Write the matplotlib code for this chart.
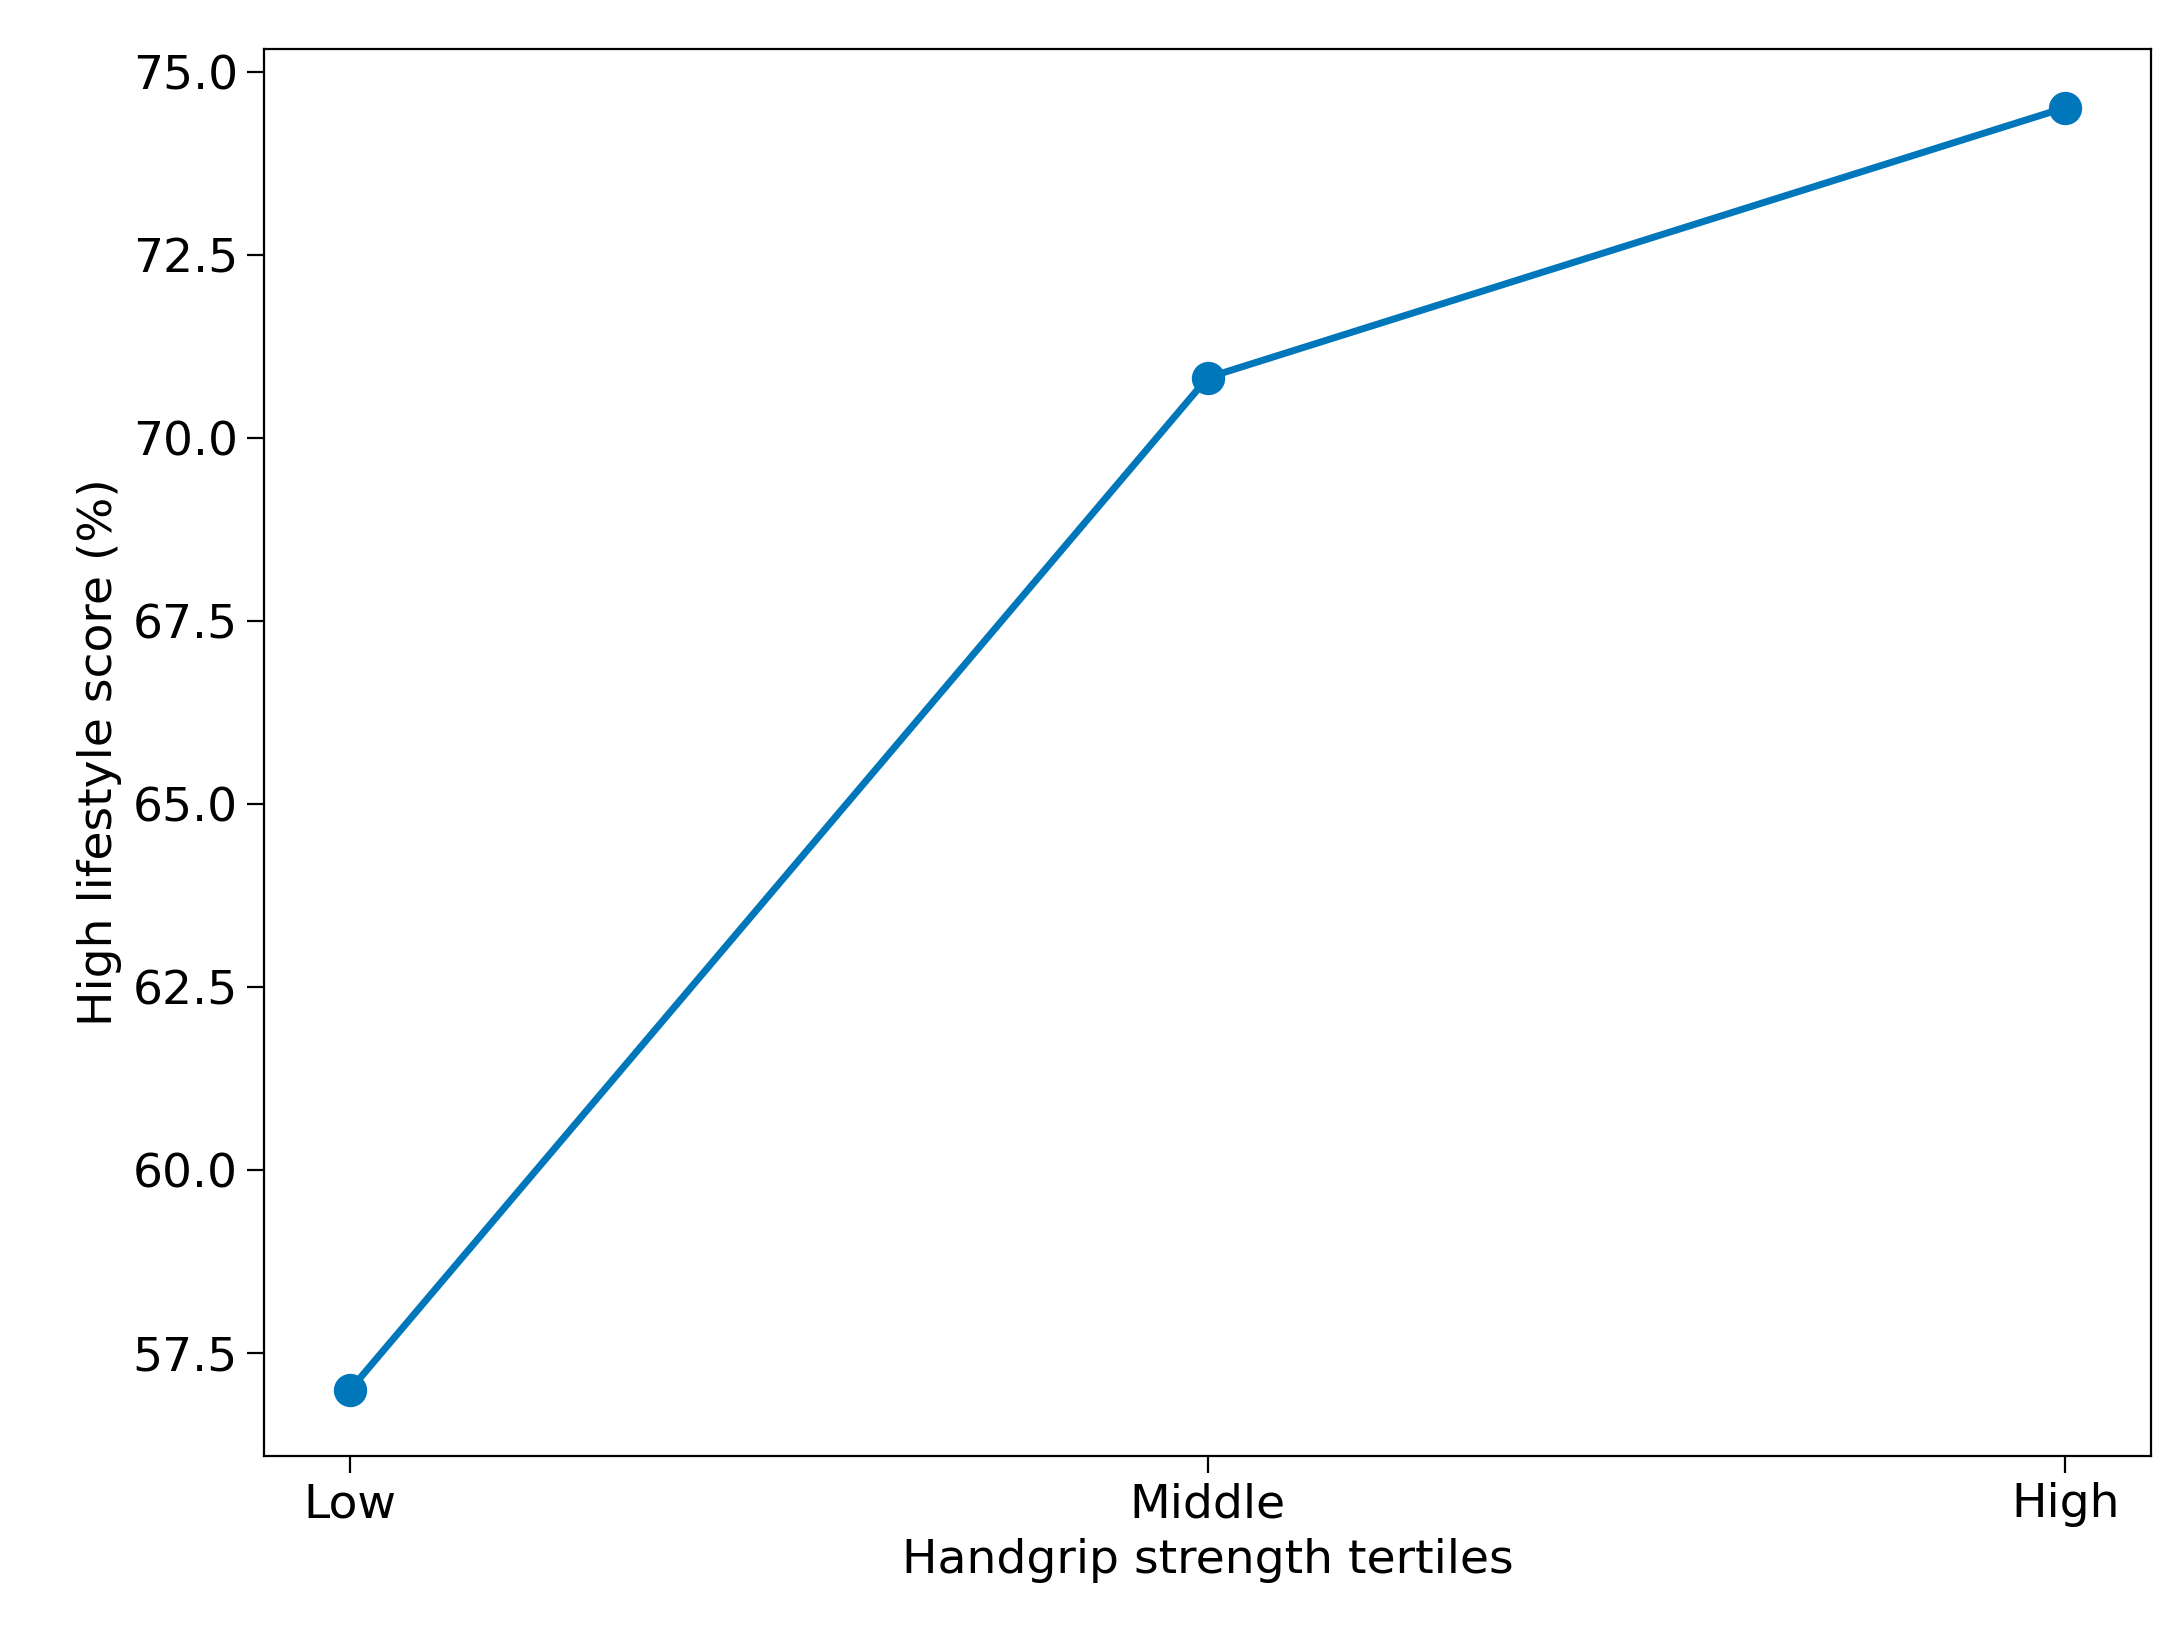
import matplotlib.pyplot as plt

tertiles = ['Low', 'Middle', 'High']
high_lifestyle_pct = [57.0, 70.83, 74.52]

fig = plt.figure(figsize=(10.92, 8.16), dpi=200)
ax = fig.add_axes([0.121, 0.108, 0.864, 0.862])
ax.plot(tertiles, high_lifestyle_pct, marker='o', color='#0077bb', linewidth=2.5, markersize=11)
ax.set_ylim(56.1, 75.32)
ax.set_yticks([57.5, 60.0, 62.5, 65.0, 67.5, 70.0, 72.5, 75.0])
ax.set_yticklabels([f'{v:.1f}' for v in ax.get_yticks()])
ax.set_xlabel('Handgrip strength tertiles', fontsize=17)
ax.set_ylabel('High lifestyle score (%)', fontsize=17)
ax.tick_params(labelsize=17, length=6)
fig.savefig('out.png', dpi=200)
